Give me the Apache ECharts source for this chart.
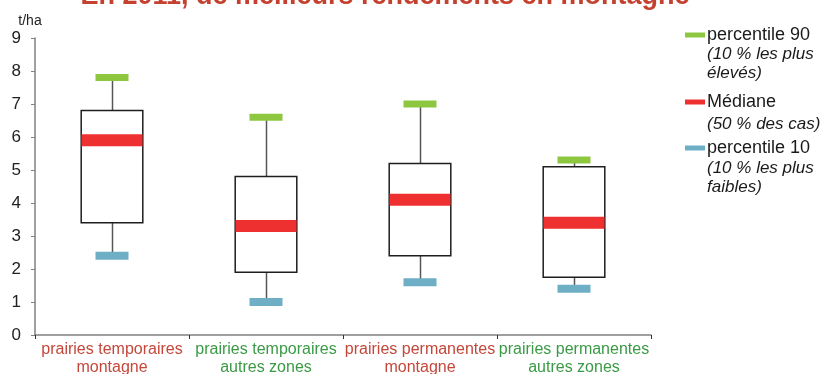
<!DOCTYPE html>
<html>
<head>
<meta charset="utf-8">
<script src="https://cdn.jsdelivr.net/npm/echarts@6/dist/echarts.min.js"></script>
<style>
  html, body { margin: 0; padding: 0; background: #ffffff; }
  #chart { width: 823px; height: 374px; }
</style>
</head>
<body>
<div id="chart"></div>
<script>
// Rendements des prairies (t/ha) en 2011
const categories = [
  'prairies temporaires\nmontagne',
  'prairies temporaires\nautres zones',
  'prairies permanentes\nmontagne',
  'prairies permanentes\nautres zones'
];
const p90    = [7.8, 6.6, 7.0, 5.3];
const q3     = [6.8, 4.8, 5.2, 5.1];
const median = [5.9, 3.3, 4.1, 3.4];
const q1     = [3.4, 1.9, 2.4, 1.75];
const p10    = [2.4, 1.0, 1.6, 1.4];
const yTicks = [0, 1, 2, 3, 4, 5, 6, 7, 8, 9];

const FONT = '"Liberation Sans", Arial, sans-serif';
const RED_TXT = '#c4473a';
const GREEN_TXT = '#3a9a45';

const boxData = categories.map((c, i) => [i, p10[i], q1[i], q3[i], p90[i]]);

const chart = echarts.init(document.getElementById('chart'));

function renderBox(params, api) {
  const i = api.value(0);
  const lo = api.coord([i, api.value(1)]);
  const b1 = api.coord([i, api.value(2)]);
  const b3 = api.coord([i, api.value(3)]);
  const hi = api.coord([i, api.value(4)]);
  const w = api.size([1, 0])[0] * 0.4;
  const x = Math.round(lo[0]) + 0.5;
  const whisker = { stroke: '#555555', lineWidth: 1.5 };
  return {
    type: 'group',
    children: [
      { type: 'line', shape: { x1: x, y1: lo[1], x2: x, y2: b1[1] }, style: whisker },
      { type: 'line', shape: { x1: x, y1: b3[1], x2: x, y2: hi[1] }, style: whisker },
      {
        type: 'rect',
        shape: { x: lo[0] - w / 2, y: b3[1], width: w, height: b1[1] - b3[1] },
        style: { fill: '#ffffff', stroke: '#1e1e1e', lineWidth: 1.5 }
      }
    ]
  };
}

function legendBlock(name, top) {
  return {
    data: [name],
    orient: 'vertical',
    left: 685,
    top: top,
    padding: 0,
    icon: 'rect',
    itemWidth: 20,
    itemHeight: 5,
    selectedMode: false,
    textStyle: { fontFamily: FONT, fontSize: 18, color: '#1a1a1a', lineHeight: 20, padding: [0, 0, 0, -3] }
  };
}

function note(text, y) {
  return {
    type: 'text',
    left: 707,
    top: y - 8,
    style: {
      text: text,
      font: 'italic 17px ' + FONT,
      fill: '#1a1a1a'
    }
  };
}

chart.setOption({
  animation: false,
  backgroundColor: '#ffffff',
  grid: { left: 35, right: 172, top: 38, bottom: 39, outerBoundsMode: 'none' },
  legend: [
    legendBlock('percentile 90', 25),
    legendBlock('Médiane', 92),
    legendBlock('percentile 10', 138)
  ],
  graphic: [
    {
      type: 'text',
      x: 385,
      y: -3,
      style: {
        text: 'En 2011, de meilleurs rendements en montagne',
        font: 'bold 27px ' + FONT,
        fill: '#c4402f',
        align: 'center',
        verticalAlign: 'middle'
      }
    },
    note('(10 % les plus', 54),
    note('élevés)', 73),
    note('(50 % des cas)', 124),
    note('(10 % les plus', 168),
    note('faibles)', 187)
  ],
  xAxis: {
    type: 'category',
    data: categories,
    boundaryGap: true,
    axisLine: { lineStyle: { color: '#808080', width: 1.5 } },
    axisTick: { show: true, alignWithLabel: false, length: 4, lineStyle: { color: '#333' } },
    axisLabel: {
      interval: 0,
      margin: 6,
      fontFamily: FONT,
      fontSize: 16,
      lineHeight: 18,
      color: (v, i) => (i % 2 === 0 ? RED_TXT : GREEN_TXT)
    },
    splitLine: { show: false }
  },
  yAxis: {
    type: 'value',
    min: yTicks[0],
    max: yTicks[yTicks.length - 1],
    interval: 1,
    name: 't/ha',
    nameLocation: 'end',
    nameGap: 10,
    nameTextStyle: { fontFamily: FONT, fontSize: 14, color: '#222', padding: [0, 10, 0, 0] },
    axisLine: { show: true, lineStyle: { color: '#808080', width: 1.5 } },
    axisTick: { show: true, length: 4, lineStyle: { color: '#808080' } },
    axisLabel: { fontFamily: FONT, fontSize: 17, color: '#222', margin: 14 },
    splitLine: { show: false }
  },
  series: [
    {
      name: 'boîtes',
      type: 'custom',
      renderItem: renderBox,
      encode: { x: 0, y: [1, 2, 3, 4] },
      data: boxData,
      z: 2
    },
    {
      name: 'percentile 90',
      type: 'scatter',
      symbol: 'rect',
      symbolSize: [33, 7],
      itemStyle: { color: '#8dc63f', opacity: 1 },
      data: p90,
      z: 5
    },
    {
      name: 'Médiane',
      type: 'scatter',
      symbol: 'rect',
      symbolSize: [61, 12],
      itemStyle: { color: '#ee3130', opacity: 1 },
      data: median,
      z: 5
    },
    {
      name: 'percentile 10',
      type: 'scatter',
      symbol: 'rect',
      symbolSize: [33, 8],
      itemStyle: { color: '#6eafc6', opacity: 1 },
      data: p10,
      z: 5
    }
  ]
});
</script>
</body>
</html>
